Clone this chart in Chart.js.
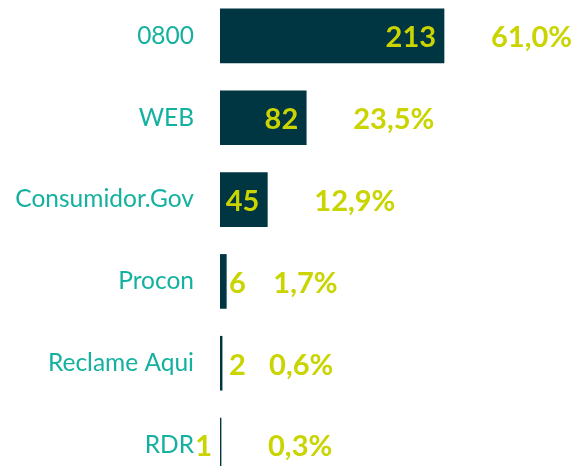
<!DOCTYPE html>
<html>
<head>
<meta charset="utf-8">
<script src="https://cdn.jsdelivr.net/npm/chart.js@4"></script>
<style>
  html, body { margin: 0; padding: 0; background: #fff; overflow: hidden; }
  #channels { position: absolute; left: 0; top: -5px; }
</style>
</head>
<body>
<canvas id="channels" width="586" height="491"></canvas>
<script>
const BAR_COLOR = '#003641';
const LABEL_COLOR = '#14b1a0';
const VALUE_COLOR = '#c9d400';

const channels = ['0800', 'WEB', 'Consumidor.Gov', 'Procon', 'Reclame Aqui', 'RDR'];
const complaints = [213, 82, 45, 6, 2, 1];
const shares = ['61,0%', '23,5%', '12,9%', '1,7%', '0,6%', '0,3%'];
// where the count goes: inside the bar end, just past the bar, or before the bar
const countPlacement = ['inside', 'inside', 'inside', 'after', 'after', 'before'];

const barLabels = {
    id: 'barLabels',
    afterDatasetsDraw(chart) {
        const {ctx} = chart;
        const meta = chart.getDatasetMeta(0);
        ctx.save();
        ctx.fillStyle = VALUE_COLOR;
        ctx.font = 'bold 29px Lato';
        ctx.textBaseline = 'middle';
        meta.data.forEach((bar, i) => {
            const y = bar.y + 2;
            const place = countPlacement[i];
            if (place === 'inside') {
                ctx.textAlign = 'right';
                ctx.fillText(complaints[i], bar.x - 8, y);
            } else if (place === 'after') {
                ctx.textAlign = 'left';
                ctx.fillText(complaints[i], bar.base + 9, y);
            } else {
                ctx.textAlign = 'right';
                ctx.fillText(complaints[i], bar.base - 8, y);
            }
            ctx.textAlign = 'left';
            ctx.fillText(shares[i], bar.x + 47, y);
        });
        ctx.restore();
    }
};

const ctx = document.getElementById('channels').getContext('2d');
new Chart(ctx, {
    type: 'bar',
    data: {
        labels: channels,
        datasets: [{
            data: complaints,
            backgroundColor: BAR_COLOR,
            borderWidth: 0,
            barThickness: 54,
        }]
    },
    options: {
        indexAxis: 'y',
        responsive: false,
        animation: false,
        layout: {padding: 0},
        plugins: {
            legend: {display: false},
            tooltip: {enabled: false}
        },
        scales: {
            x: {
                display: false,
                min: 0,
                max: 348
            },
            y: {
                grid: {display: false, drawTicks: false},
                border: {display: false},
                ticks: {
                    color: LABEL_COLOR,
                    padding: 26,
                    font: {family: 'Lato', size: 24.5}
                },
                afterFit(scale) {
                    // tick padding is horizontal only here, keep the rows edge to edge
                    scale.width = 220;
                    scale.paddingTop = 0;
                    scale.paddingBottom = 0;
                }
            }
        }
    },
    plugins: [barLabels]
});
</script>
</body>
</html>
